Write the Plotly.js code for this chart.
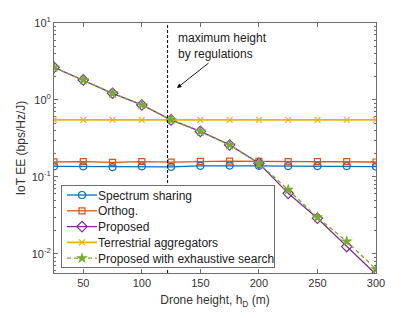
<!DOCTYPE html>
<html><head><meta charset="utf-8">
<script src="https://cdn.plot.ly/plotly-3.0.1.min.js"></script>
<style>body{margin:0;background:#fff}#c{width:415px;height:312px}</style>
</head><body><div id="c"></div>
<script>
const heights = [25, 50, 75, 100, 125, 150, 175, 200, 225, 250, 275, 300];
const spectrumSharing = [0.137, 0.137, 0.134, 0.137, 0.135, 0.139, 0.140, 0.139, 0.138, 0.138, 0.138, 0.136];
const orthog = [0.157, 0.158, 0.154, 0.158, 0.155, 0.159, 0.160, 0.159, 0.158, 0.158, 0.158, 0.156];
const proposed = [2.65, 1.82, 1.22, 0.86, 0.55, 0.39, 0.26, 0.15, 0.061, 0.029, 0.0124, 0.0054];
const terrestrial = [0.55, 0.55, 0.55, 0.55, 0.55, 0.55, 0.55, 0.55, 0.55, 0.55, 0.55, 0.55];
const exhaustive = [2.65, 1.82, 1.22, 0.86, 0.55, 0.39, 0.26, 0.15, 0.068, 0.0297, 0.0145, 0.0063];
const regulationHeight = 122;
const yTickVals = [0.01, 0.1, 1, 10];
const yTickText = ['10<sup>-2</sup>', '10<sup>-1</sup>', '10<sup>0</sup>', '10<sup>1</sup>'];
const yMinorVals = [0.006, 0.007, 0.008, 0.009, 0.02, 0.03, 0.04, 0.05, 0.06, 0.07, 0.08, 0.09,
  0.2, 0.3, 0.4, 0.5, 0.6, 0.7, 0.8, 0.9, 2, 3, 4, 5, 6, 7, 8, 9];
const xTickVals = [50, 100, 150, 200, 250, 300];

const font = 'Liberation Sans, Arial, sans-serif';
const traces = [
  {x: heights, y: spectrumSharing, name: 'Spectrum sharing', mode: 'lines+markers',
   line: {color: '#0072BD', width: 1.3}, marker: {symbol: 'circle-open', size: 7, color: '#0072BD', line: {width: 1.2}}},
  {x: heights, y: orthog, name: 'Orthog.', mode: 'lines+markers',
   line: {color: '#D95319', width: 1.3}, marker: {symbol: 'square-open', size: 6, color: '#D95319', line: {width: 1.2}}},
  {x: heights, y: proposed, name: 'Proposed', mode: 'lines+markers',
   line: {color: '#7E2F8E', width: 1.3}, marker: {symbol: 'diamond-open', size: 8, color: '#7E2F8E', line: {width: 1.2}}},
  {x: heights, y: terrestrial, name: 'Terrestrial aggregators', mode: 'lines+markers',
   line: {color: '#EDB120', width: 1.8}, marker: {symbol: 'x-thin-open', size: 6, color: '#EDB120', line: {width: 1.3, color: '#EDB120'}}},
  {x: heights, y: exhaustive, name: 'Proposed with exhaustive search', mode: 'lines+markers',
   line: {color: '#77AC30', width: 1.3, dash: '4px,3px'}, marker: {symbol: 'star', size: 9, color: '#77AC30'}}
];
const axisCommon = {
  showline: true, linecolor: '#6e6e6e', linewidth: 1, mirror: 'allticks',
  ticks: 'inside', ticklen: 4, tickcolor: '#6e6e6e', showgrid: false, zeroline: false,
  tickfont: {family: font, size: 11, color: '#333'}
};
const layout = {
  width: 415, height: 312,
  margin: {l: 54, r: 39, t: 23, b: 39},
  paper_bgcolor: '#fff', plot_bgcolor: '#fff',
  showlegend: true,
  legend: {x: 0.022, y: 0.022, xanchor: 'left', yanchor: 'bottom', bgcolor: '#fff',
    bordercolor: '#6e6e6e', borderwidth: 1, font: {family: font, size: 12, color: '#222'},
    tracegroupgap: 0, itemwidth: 30},
  xaxis: Object.assign({}, axisCommon, {
    range: [25, 300], tickvals: xTickVals,
    title: {text: 'Drone height, h<sub>D</sub> (m)', font: {family: font, size: 12, color: '#333'}, standoff: 7}
  }),
  yaxis: Object.assign({}, axisCommon, {
    type: 'log', range: [-2.25, 1], tickvals: yTickVals, ticktext: yTickText,
    minor: {tickmode: 'array', tickvals: yMinorVals, ticks: 'inside', ticklen: 2, tickcolor: '#6e6e6e', showgrid: false},
    title: {text: 'IoT EE (bps/Hz/J)', font: {family: font, size: 12, color: '#333'}, standoff: 3}
  }),
  shapes: [{type: 'line', xref: 'x', yref: 'paper', x0: regulationHeight, x1: regulationHeight, y0: 0, y1: 1,
    line: {color: '#000', width: 1, dash: '3px,2px'}}],
  annotations: [
    {xref: 'paper', yref: 'paper', x: 0.379, y: 0.975, xanchor: 'left', yanchor: 'top', align: 'left',
     text: 'maximum height<br>by regulations', showarrow: false, font: {family: font, size: 12, color: '#222'}},
    {xref: 'x', yref: 'paper', x: 130, y: 0.74, ax: 33, ay: -26, text: '', showarrow: true,
     arrowhead: 2, arrowsize: 1, arrowwidth: 0.9, arrowcolor: '#000'}
  ]
};
Plotly.newPlot('c', traces, layout, {displayModeBar: false, staticPlot: true}).then(function (gd) {
  // compact the legend rows to MATLAB-like spacing
  const leg = gd.querySelector('.legend');
  if (!leg) return;
  const items = leg.querySelectorAll('.traces');
  const step = 15.8, firstY = 10;
  items.forEach(function (it, i) {
    const m = (it.getAttribute('transform') || '').match(/translate\(\s*([-\d.]+)[ ,]+([-\d.]+)/);
    const tx = m ? m[1] : 0;
    it.setAttribute('transform', 'translate(' + tx + ',' + (firstY + i * step) + ')');
    const t = it.querySelector('text.legendtext');
    if (t) t.setAttribute('x', 36);
  });
  const bg = leg.querySelector('rect.bg');
  if (bg) { bg.setAttribute('height', 82); bg.setAttribute('width', 213); }
  leg.setAttribute('transform', 'translate(61,185)');
});
</script></body></html>
